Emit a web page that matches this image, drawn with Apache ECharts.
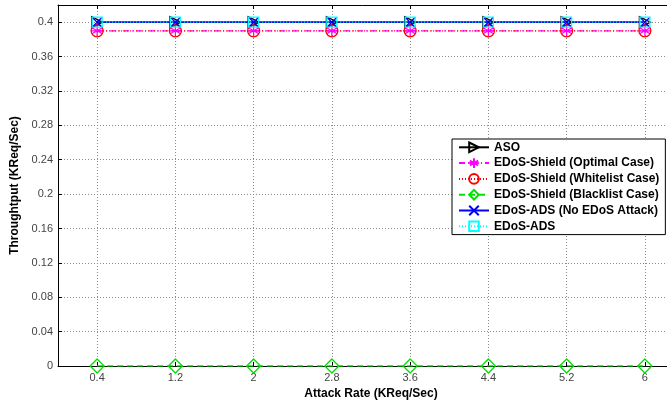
<!DOCTYPE html>
<html>
<head>
<meta charset="utf-8">
<script src="https://cdn.jsdelivr.net/npm/echarts@6/dist/echarts.min.js"></script>
<style>
  html, body { margin: 0; padding: 0; background: #fff; }
  #chart { width: 667px; height: 402px; }
</style>
</head>
<body>
<div id="chart"></div>
<script>
// Attack rates (KReq/Sec) on the x axis
const attackRates = [0.4, 1.2, 2, 2.8, 3.6, 4.4, 5.2, 6];
// Throughput tick labels on the y axis
const throughputTicks = [0, 0.04, 0.08, 0.12, 0.16, 0.2, 0.24, 0.28, 0.32, 0.36, 0.4];

// Throughput (KReq/Sec) per scheme
const aso            = [0.4, 0.4, 0.4, 0.4, 0.4, 0.4, 0.4, 0.4];
const shieldOptimal  = [0.39, 0.39, 0.39, 0.39, 0.39, 0.39, 0.39, 0.39];
const shieldWhite    = [0.39, 0.39, 0.39, 0.39, 0.39, 0.39, 0.39, 0.39];
const shieldBlack    = [0, 0, 0, 0, 0, 0, 0, 0];
const adsNoAttack    = [0.4, 0.4, 0.4, 0.4, 0.4, 0.4, 0.4, 0.4];
const ads            = [0.4, 0.4, 0.4, 0.4, 0.4, 0.4, 0.4, 0.4];

const FONT = '"Liberation Sans", Arial, sans-serif';

const SYM_TRI_RIGHT = 'path://M-1,-1L1,0L-1,1Z';
const SYM_ASTERISK = 'path://M0,-1L0,1M-0.87,-0.5L0.87,0.5M-0.87,0.5L0.87,-0.5M-1,0L1,0';
const SYM_CROSS = 'path://M-1,-1L1,1M-1,1L1,-1';
const SYM_DIAMOND = 'path://M0,-1L1,0L0,1L-1,0Z';

function pairs(ys) { return attackRates.map((x, i) => [x, ys[i]]); }

function lineSeries(name, ys, color, lineType, symbol, size) {
  return {
    name: name,
    type: 'line',
    data: pairs(ys),
    symbol: symbol,
    symbolSize: size,
    showAllSymbol: true,
    lineStyle: { color: color, width: 1.3, type: lineType },
    itemStyle: { color: 'none', borderColor: color, borderWidth: 1.3 },
    emphasis: { disabled: true },
    animation: false,
    z: 3
  };
}

const gridLine = { show: true, lineStyle: { color: '#8c8c8c', width: 1, type: [1, 2] } };

const option = {
  backgroundColor: '#fff',
  animation: false,
  grid: { left: 58, top: 5, width: 626, height: 361, containLabel: false, outerBoundsMode: 'none' },
  xAxis: [{
    type: 'value', min: 0, max: 6.4,
    name: 'Attack Rate (KReq/Sec)', nameLocation: 'middle', nameGap: 22,
    nameTextStyle: { fontFamily: FONT, fontWeight: 'bold', fontSize: 12, color: '#000' },
    axisLine: { show: true, onZero: false, lineStyle: { color: '#000', width: 1 } },
    axisTick: { show: true, inside: true, length: 4, customValues: attackRates, lineStyle: { color: '#000' } },
    axisLabel: { customValues: attackRates, fontFamily: FONT, fontSize: 11, color: '#444', margin: 6 },
    splitLine: gridLine
  }, {
    type: 'value', min: 0, max: 6.4, position: 'top',
    axisLine: { show: true, onZero: false, lineStyle: { color: '#000', width: 1 } },
    axisTick: { show: true, inside: true, length: 4, customValues: attackRates, lineStyle: { color: '#000' } },
    axisLabel: { show: false },
    splitLine: { show: false }
  }],
  yAxis: {
    type: 'value', min: 0, max: 0.42,
    name: 'Throughtput (KReq/Sec)', nameLocation: 'middle', nameGap: 37,
    nameTextStyle: { fontFamily: FONT, fontWeight: 'bold', fontSize: 12, color: '#000' },
    axisLine: { show: true, onZero: false, lineStyle: { color: '#000', width: 1 } },
    axisTick: { show: true, inside: true, length: 4, customValues: throughputTicks, lineStyle: { color: '#000' } },
    axisLabel: { customValues: throughputTicks, fontFamily: FONT, fontSize: 11, color: '#444', margin: 5 },
    splitLine: gridLine
  },
  legend: {
    orient: 'vertical',
    left: 452, top: 139,
    padding: [1, 6, 1, 6],
    itemWidth: 30, itemHeight: 12, itemGap: 1.2,
    backgroundColor: '#fff',
    borderColor: '#000', borderWidth: 1,
    textStyle: { fontFamily: FONT, fontWeight: 'bold', fontSize: 12, lineHeight: 12, color: '#000' },
    selectedMode: false,
    data: ['ASO', 'EDoS-Shield (Optimal Case)', 'EDoS-Shield (Whitelist Case)',
           'EDoS-Shield (Blacklist Case)', 'EDoS-ADS (No EDoS Attack)', 'EDoS-ADS']
  },
  series: [
    lineSeries('ASO', aso, '#000000', 'solid', SYM_TRI_RIGHT, 11),
    lineSeries('EDoS-Shield (Optimal Case)', shieldOptimal, '#ff00ff', [6, 3, 1, 3], SYM_ASTERISK, 12),
    lineSeries('EDoS-Shield (Whitelist Case)', shieldWhite, '#ff0000', [1, 2], 'circle', 12),
    lineSeries('EDoS-Shield (Blacklist Case)', shieldBlack, '#00e000', [6, 4], SYM_DIAMOND, 14),
    lineSeries('EDoS-ADS (No EDoS Attack)', adsNoAttack, '#0000ff', 'solid', SYM_CROSS, 10),
    lineSeries('EDoS-ADS', ads, '#00ffff', [1, 2], 'rect', 10)
  ]
};

const chart = echarts.init(document.getElementById('chart'), null, { renderer: 'canvas' });
chart.setOption(option);
</script>
</body>
</html>
